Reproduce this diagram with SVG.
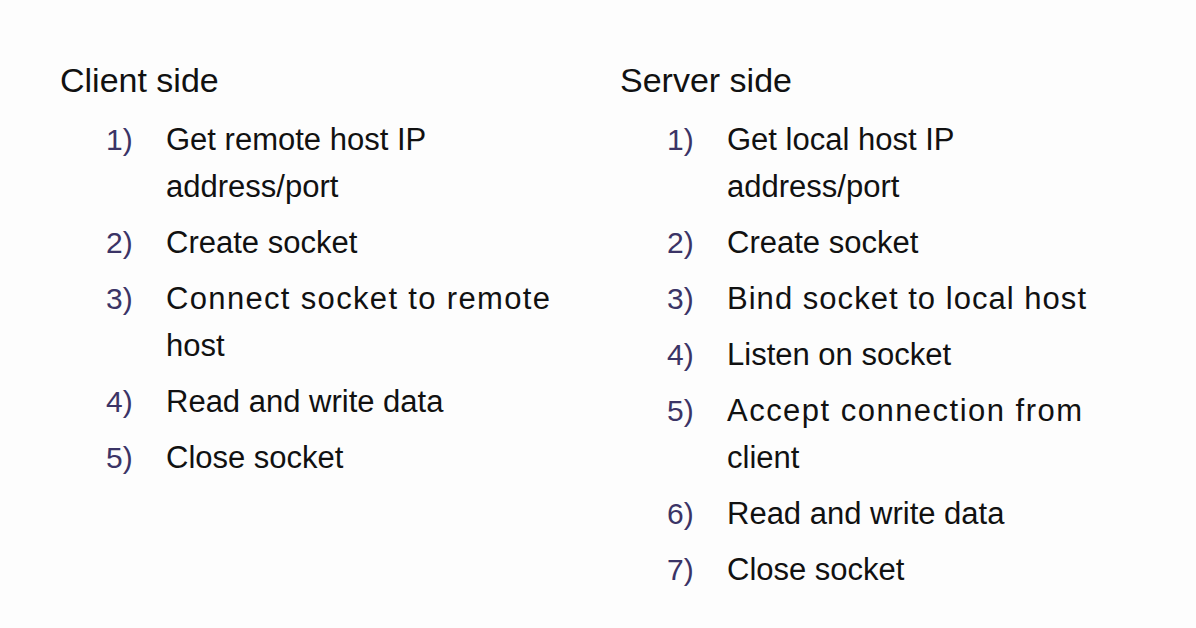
<svg xmlns="http://www.w3.org/2000/svg" width="1196" height="628" viewBox="0 0 1196 628">
<style>
text{font-family:"Liberation Sans",Arial,sans-serif;fill:#111}
.h{font-size:34px}
.t{font-size:31px}
.n{font-size:30px;fill:#3b3466}
</style>
<rect width="1196" height="628" fill="#fdfdfd"/>
<g id="client">
<text class="h" x="60" y="92">Client side</text>
<text class="n" x="106" y="150">1)</text><text class="t" x="166" y="150">Get remote host IP</text>
<text class="t" x="166" y="197">address/port</text>
<text class="n" x="106" y="253">2)</text><text class="t" x="166" y="253">Create socket</text>
<text class="n" x="106" y="309">3)</text><text class="t" x="166" y="309" textLength="384">Connect socket to remote</text>
<text class="t" x="166" y="356">host</text>
<text class="n" x="106" y="412">4)</text><text class="t" x="166" y="412">Read and write data</text>
<text class="n" x="106" y="468">5)</text><text class="t" x="166" y="468">Close socket</text>
</g>
<g id="server">
<text class="h" x="620" y="92">Server side</text>
<text class="n" x="667" y="150">1)</text><text class="t" x="727" y="150">Get local host IP</text>
<text class="t" x="727" y="197">address/port</text>
<text class="n" x="667" y="253">2)</text><text class="t" x="727" y="253">Create socket</text>
<text class="n" x="667" y="309">3)</text><text class="t" x="727" y="309" textLength="359">Bind socket to local host</text>
<text class="n" x="667" y="365">4)</text><text class="t" x="727" y="365">Listen on socket</text>
<text class="n" x="667" y="421">5)</text><text class="t" x="727" y="421" textLength="355">Accept connection from</text>
<text class="t" x="727" y="468">client</text>
<text class="n" x="667" y="524">6)</text><text class="t" x="727" y="524">Read and write data</text>
<text class="n" x="667" y="580">7)</text><text class="t" x="727" y="580">Close socket</text>
</g>
</svg>
